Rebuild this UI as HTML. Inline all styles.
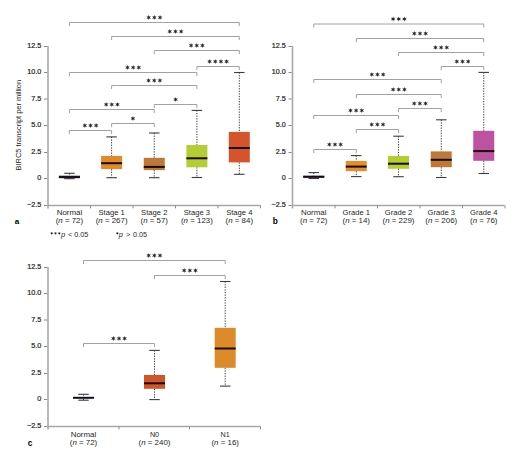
<!DOCTYPE html><html><head><meta charset="utf-8"><style>html,body{margin:0;padding:0;background:#fff;}svg{display:block;}</style></head><body>
<svg width="520" height="463" viewBox="0 0 520 463" font-family='"Liberation Sans", sans-serif'>
<rect width="520" height="463" fill="#fff"/>
<line x1="48" y1="46.0" x2="48" y2="208.5" stroke="#a8a8a8" stroke-width="1.6" />
<line x1="44" y1="46.5" x2="47.2" y2="46.5" stroke="#8a8a8a" stroke-width="1" />
<text transform="translate(41.2,48.4) scale(0.95,1)" font-size="7.6" text-anchor="end" font-weight="normal" fill="#262626" stroke="#262626" stroke-width="0.22">12.5</text>
<line x1="44" y1="72.5" x2="47.2" y2="72.5" stroke="#8a8a8a" stroke-width="1" />
<text transform="translate(41.2,74.4) scale(0.95,1)" font-size="7.6" text-anchor="end" font-weight="normal" fill="#262626" stroke="#262626" stroke-width="0.22">10.0</text>
<line x1="44" y1="99" x2="47.2" y2="99" stroke="#8a8a8a" stroke-width="1" />
<text transform="translate(41.2,100.9) scale(0.95,1)" font-size="7.6" text-anchor="end" font-weight="normal" fill="#262626" stroke="#262626" stroke-width="0.22">7.5</text>
<line x1="44" y1="125.5" x2="47.2" y2="125.5" stroke="#8a8a8a" stroke-width="1" />
<text transform="translate(41.2,127.4) scale(0.95,1)" font-size="7.6" text-anchor="end" font-weight="normal" fill="#262626" stroke="#262626" stroke-width="0.22">5.0</text>
<line x1="44" y1="152.5" x2="47.2" y2="152.5" stroke="#8a8a8a" stroke-width="1" />
<text transform="translate(41.2,154.4) scale(0.95,1)" font-size="7.6" text-anchor="end" font-weight="normal" fill="#262626" stroke="#262626" stroke-width="0.22">2.5</text>
<line x1="44" y1="178.5" x2="47.2" y2="178.5" stroke="#8a8a8a" stroke-width="1" />
<text transform="translate(41.2,180.4) scale(0.95,1)" font-size="7.6" text-anchor="end" font-weight="normal" fill="#262626" stroke="#262626" stroke-width="0.22">0</text>
<line x1="44" y1="205.5" x2="47.2" y2="205.5" stroke="#8a8a8a" stroke-width="1" />
<text transform="translate(41.2,207.4) scale(0.95,1)" font-size="7.6" text-anchor="end" font-weight="normal" fill="#262626" stroke="#262626" stroke-width="0.22">&#8722;2.5</text>
<line x1="48" y1="205.5" x2="260.5" y2="205.5" stroke="#a8a8a8" stroke-width="1.4" />
<line x1="90.5" y1="205.5" x2="90.5" y2="208.3" stroke="#8a8a8a" stroke-width="1" />
<line x1="133" y1="205.5" x2="133" y2="208.3" stroke="#8a8a8a" stroke-width="1" />
<line x1="175.5" y1="205.5" x2="175.5" y2="208.3" stroke="#8a8a8a" stroke-width="1" />
<line x1="218" y1="205.5" x2="218" y2="208.3" stroke="#8a8a8a" stroke-width="1" />
<line x1="260.5" y1="205.5" x2="260.5" y2="208.3" stroke="#8a8a8a" stroke-width="1" />
<text transform="translate(21.4,125.2) rotate(-90) scale(0.93,1)" font-size="8" text-anchor="middle" fill="#262626">BIRC5 transcript per million</text>
<line x1="69.4" y1="173.3" x2="69.4" y2="175.7" stroke="#3c3c3c" stroke-width="1" stroke-dasharray="1.3 1.3"/>
<line x1="69.4" y1="178.2" x2="69.4" y2="178.7" stroke="#3c3c3c" stroke-width="1" stroke-dasharray="1.3 1.3"/>
<line x1="64.15" y1="173.3" x2="74.65" y2="173.3" stroke="#3c3c3c" stroke-width="1.1"/>
<line x1="64.15" y1="178.7" x2="74.65" y2="178.7" stroke="#3c3c3c" stroke-width="1.1"/>
<rect x="58.900000000000006" y="175.7" width="21" height="2.5" fill="#1c1c5c"/>
<line x1="58.900000000000006" y1="177" x2="79.9" y2="177" stroke="#1a0a05" stroke-width="1.5"/>
<line x1="111.6" y1="136.9" x2="111.6" y2="155.9" stroke="#3c3c3c" stroke-width="1" stroke-dasharray="1.3 1.3"/>
<line x1="111.6" y1="169.1" x2="111.6" y2="177.7" stroke="#3c3c3c" stroke-width="1" stroke-dasharray="1.3 1.3"/>
<line x1="106.35" y1="136.9" x2="116.85" y2="136.9" stroke="#3c3c3c" stroke-width="1.1"/>
<line x1="106.35" y1="177.7" x2="116.85" y2="177.7" stroke="#3c3c3c" stroke-width="1.1"/>
<rect x="101.1" y="155.9" width="21" height="13.199999999999989" fill="#e08a2a"/>
<line x1="101.1" y1="163.2" x2="122.1" y2="163.2" stroke="#1a0a05" stroke-width="2.0"/>
<line x1="154.25" y1="133.0" x2="154.25" y2="157.8" stroke="#3c3c3c" stroke-width="1" stroke-dasharray="1.3 1.3"/>
<line x1="154.25" y1="170.1" x2="154.25" y2="177.7" stroke="#3c3c3c" stroke-width="1" stroke-dasharray="1.3 1.3"/>
<line x1="149.0" y1="133.0" x2="159.5" y2="133.0" stroke="#3c3c3c" stroke-width="1.1"/>
<line x1="149.0" y1="177.7" x2="159.5" y2="177.7" stroke="#3c3c3c" stroke-width="1.1"/>
<rect x="143.75" y="157.8" width="21" height="12.299999999999983" fill="#be7837"/>
<line x1="143.75" y1="166.9" x2="164.75" y2="166.9" stroke="#1a0a05" stroke-width="2.0"/>
<line x1="196.9" y1="110.4" x2="196.9" y2="145.0" stroke="#3c3c3c" stroke-width="1" stroke-dasharray="1.3 1.3"/>
<line x1="196.9" y1="167.3" x2="196.9" y2="177.5" stroke="#3c3c3c" stroke-width="1" stroke-dasharray="1.3 1.3"/>
<line x1="191.65" y1="110.4" x2="202.15" y2="110.4" stroke="#3c3c3c" stroke-width="1.1"/>
<line x1="191.65" y1="177.5" x2="202.15" y2="177.5" stroke="#3c3c3c" stroke-width="1.1"/>
<rect x="186.4" y="145.0" width="21" height="22.30000000000001" fill="#b4cd32"/>
<line x1="186.4" y1="158.3" x2="207.4" y2="158.3" stroke="#1a0a05" stroke-width="2.0"/>
<line x1="239.3" y1="72.5" x2="239.3" y2="131.9" stroke="#3c3c3c" stroke-width="1" stroke-dasharray="1.3 1.3"/>
<line x1="239.3" y1="162.4" x2="239.3" y2="174.3" stroke="#3c3c3c" stroke-width="1" stroke-dasharray="1.3 1.3"/>
<line x1="234.05" y1="72.5" x2="244.55" y2="72.5" stroke="#3c3c3c" stroke-width="1.1"/>
<line x1="234.05" y1="174.3" x2="244.55" y2="174.3" stroke="#3c3c3c" stroke-width="1.1"/>
<rect x="228.8" y="131.9" width="21" height="30.5" fill="#d6542c"/>
<line x1="228.8" y1="148.0" x2="249.8" y2="148.0" stroke="#1a0a05" stroke-width="2.0"/>
<path d="M69.4 26.1V22.5H239.3V26.1" stroke="#a2a2a2" stroke-width="1" fill="none"/>
<polygon points="148.68,14.90 149.23,16.55 150.93,16.20 149.77,17.50 150.93,18.80 149.23,18.45 148.68,20.10 148.13,18.45 146.43,18.80 147.59,17.50 146.43,16.20 148.13,16.55" fill="#2a2a2a"/>
<polygon points="154.35,14.90 154.90,16.55 156.60,16.20 155.44,17.50 156.60,18.80 154.90,18.45 154.35,20.10 153.80,18.45 152.10,18.80 153.26,17.50 152.10,16.20 153.80,16.55" fill="#2a2a2a"/>
<polygon points="160.02,14.90 160.57,16.55 162.27,16.20 161.11,17.50 162.27,18.80 160.57,18.45 160.02,20.10 159.47,18.45 157.77,18.80 158.93,17.50 157.77,16.20 159.47,16.55" fill="#2a2a2a"/>
<path d="M111.6 40.1V36.5H239.3V40.1" stroke="#a2a2a2" stroke-width="1" fill="none"/>
<polygon points="169.78,28.90 170.33,30.55 172.03,30.20 170.87,31.50 172.03,32.80 170.33,32.45 169.78,34.10 169.23,32.45 167.53,32.80 168.69,31.50 167.53,30.20 169.23,30.55" fill="#2a2a2a"/>
<polygon points="175.45,28.90 176.00,30.55 177.70,30.20 176.54,31.50 177.70,32.80 176.00,32.45 175.45,34.10 174.90,32.45 173.20,32.80 174.36,31.50 173.20,30.20 174.90,30.55" fill="#2a2a2a"/>
<polygon points="181.12,28.90 181.67,30.55 183.37,30.20 182.21,31.50 183.37,32.80 181.67,32.45 181.12,34.10 180.57,32.45 178.87,32.80 180.03,31.50 178.87,30.20 180.57,30.55" fill="#2a2a2a"/>
<path d="M154.25 54.1V50.5H239.3V54.1" stroke="#a2a2a2" stroke-width="1" fill="none"/>
<polygon points="191.11,42.90 191.65,44.55 193.36,44.20 192.20,45.50 193.36,46.80 191.65,46.45 191.11,48.10 190.56,46.45 188.85,46.80 190.01,45.50 188.85,44.20 190.56,44.55" fill="#2a2a2a"/>
<polygon points="196.78,42.90 197.32,44.55 199.03,44.20 197.87,45.50 199.03,46.80 197.32,46.45 196.78,48.10 196.23,46.45 194.52,46.80 195.68,45.50 194.52,44.20 196.23,44.55" fill="#2a2a2a"/>
<polygon points="202.45,42.90 202.99,44.55 204.70,44.20 203.54,45.50 204.70,46.80 202.99,46.45 202.45,48.10 201.90,46.45 200.19,46.80 201.35,45.50 200.19,44.20 201.90,44.55" fill="#2a2a2a"/>
<path d="M196.9 70.1V66.5H239.3V70.1" stroke="#a2a2a2" stroke-width="1" fill="none"/>
<polygon points="209.60,58.90 210.14,60.55 211.85,60.20 210.69,61.50 211.85,62.80 210.14,62.45 209.60,64.10 209.05,62.45 207.34,62.80 208.50,61.50 207.34,60.20 209.05,60.55" fill="#2a2a2a"/>
<polygon points="215.27,58.90 215.81,60.55 217.52,60.20 216.36,61.50 217.52,62.80 215.81,62.45 215.27,64.10 214.72,62.45 213.01,62.80 214.17,61.50 213.01,60.20 214.72,60.55" fill="#2a2a2a"/>
<polygon points="220.94,58.90 221.48,60.55 223.19,60.20 222.03,61.50 223.19,62.80 221.48,62.45 220.94,64.10 220.39,62.45 218.68,62.80 219.84,61.50 218.68,60.20 220.39,60.55" fill="#2a2a2a"/>
<polygon points="226.61,58.90 227.15,60.55 228.86,60.20 227.70,61.50 228.86,62.80 227.15,62.45 226.61,64.10 226.06,62.45 224.35,62.80 225.51,61.50 224.35,60.20 226.06,60.55" fill="#2a2a2a"/>
<path d="M69.4 76.1V72.5H196.9V76.1" stroke="#a2a2a2" stroke-width="1" fill="none"/>
<polygon points="127.48,64.90 128.03,66.55 129.73,66.20 128.57,67.50 129.73,68.80 128.03,68.45 127.48,70.10 126.93,68.45 125.23,68.80 126.39,67.50 125.23,66.20 126.93,66.55" fill="#2a2a2a"/>
<polygon points="133.15,64.90 133.70,66.55 135.40,66.20 134.24,67.50 135.40,68.80 133.70,68.45 133.15,70.10 132.60,68.45 130.90,68.80 132.06,67.50 130.90,66.20 132.60,66.55" fill="#2a2a2a"/>
<polygon points="138.82,64.90 139.37,66.55 141.07,66.20 139.91,67.50 141.07,68.80 139.37,68.45 138.82,70.10 138.27,68.45 136.57,68.80 137.73,67.50 136.57,66.20 138.27,66.55" fill="#2a2a2a"/>
<path d="M111.6 89.1V85.5H196.9V89.1" stroke="#a2a2a2" stroke-width="1" fill="none"/>
<polygon points="148.58,77.90 149.13,79.55 150.83,79.20 149.67,80.50 150.83,81.80 149.13,81.45 148.58,83.10 148.03,81.45 146.33,81.80 147.49,80.50 146.33,79.20 148.03,79.55" fill="#2a2a2a"/>
<polygon points="154.25,77.90 154.80,79.55 156.50,79.20 155.34,80.50 156.50,81.80 154.80,81.45 154.25,83.10 153.70,81.45 152.00,81.80 153.16,80.50 152.00,79.20 153.70,79.55" fill="#2a2a2a"/>
<polygon points="159.92,77.90 160.47,79.55 162.17,79.20 161.01,80.50 162.17,81.80 160.47,81.45 159.92,83.10 159.37,81.45 157.67,81.80 158.83,80.50 157.67,79.20 159.37,79.55" fill="#2a2a2a"/>
<path d="M154.25 108.1V104.5H196.9V108.1" stroke="#a2a2a2" stroke-width="1" fill="none"/>
<polygon points="175.57,96.90 176.12,98.55 177.83,98.20 176.67,99.50 177.83,100.80 176.12,100.45 175.57,102.10 175.03,100.45 173.32,100.80 174.48,99.50 173.32,98.20 175.03,98.55" fill="#2a2a2a"/>
<path d="M69.4 113.1V109.5H154.25V113.1" stroke="#a2a2a2" stroke-width="1" fill="none"/>
<polygon points="106.16,101.90 106.70,103.55 108.41,103.20 107.25,104.50 108.41,105.80 106.70,105.45 106.16,107.10 105.61,105.45 103.90,105.80 105.06,104.50 103.90,103.20 105.61,103.55" fill="#2a2a2a"/>
<polygon points="111.83,101.90 112.37,103.55 114.08,103.20 112.92,104.50 114.08,105.80 112.37,105.45 111.83,107.10 111.28,105.45 109.57,105.80 110.73,104.50 109.57,103.20 111.28,103.55" fill="#2a2a2a"/>
<polygon points="117.50,101.90 118.04,103.55 119.75,103.20 118.59,104.50 119.75,105.80 118.04,105.45 117.50,107.10 116.95,105.45 115.24,105.80 116.40,104.50 115.24,103.20 116.95,103.55" fill="#2a2a2a"/>
<path d="M111.6 127.1V123.5H154.25V127.1" stroke="#a2a2a2" stroke-width="1" fill="none"/>
<polygon points="132.93,115.90 133.47,117.55 135.18,117.20 134.02,118.50 135.18,119.80 133.47,119.45 132.93,121.10 132.38,119.45 130.67,119.80 131.83,118.50 130.67,117.20 132.38,117.55" fill="#2a2a2a"/>
<path d="M69.4 134.1V130.5H111.6V134.1" stroke="#a2a2a2" stroke-width="1" fill="none"/>
<polygon points="84.83,122.90 85.38,124.55 87.08,124.20 85.92,125.50 87.08,126.80 85.38,126.45 84.83,128.10 84.28,126.45 82.58,126.80 83.74,125.50 82.58,124.20 84.28,124.55" fill="#2a2a2a"/>
<polygon points="90.50,122.90 91.05,124.55 92.75,124.20 91.59,125.50 92.75,126.80 91.05,126.45 90.50,128.10 89.95,126.45 88.25,126.80 89.41,125.50 88.25,124.20 89.95,124.55" fill="#2a2a2a"/>
<polygon points="96.17,122.90 96.72,124.55 98.42,124.20 97.26,125.50 98.42,126.80 96.72,126.45 96.17,128.10 95.62,126.45 93.92,126.80 95.08,125.50 93.92,124.20 95.62,124.55" fill="#2a2a2a"/>
<text transform="translate(69.4,215) scale(1.1,1)" font-size="7.2" text-anchor="middle" font-weight="normal" fill="#262626" >Normal</text>
<text transform="translate(69.4,223.2) scale(1.1,1)" font-size="7.2" text-anchor="middle" font-weight="normal" fill="#262626" >(<tspan font-style="italic">n</tspan> = 72)</text>
<text transform="translate(111.6,215) scale(1.06,1)" font-size="7.2" text-anchor="middle" font-weight="normal" fill="#262626" >Stage 1</text>
<text transform="translate(111.6,223.2) scale(1.1,1)" font-size="7.2" text-anchor="middle" font-weight="normal" fill="#262626" >(<tspan font-style="italic">n</tspan> = 267)</text>
<text transform="translate(154.25,215) scale(1.06,1)" font-size="7.2" text-anchor="middle" font-weight="normal" fill="#262626" >Stage 2</text>
<text transform="translate(154.25,223.2) scale(1.1,1)" font-size="7.2" text-anchor="middle" font-weight="normal" fill="#262626" >(<tspan font-style="italic">n</tspan> = 57)</text>
<text transform="translate(196.9,215) scale(1.06,1)" font-size="7.2" text-anchor="middle" font-weight="normal" fill="#262626" >Stage 3</text>
<text transform="translate(196.9,223.2) scale(1.1,1)" font-size="7.2" text-anchor="middle" font-weight="normal" fill="#262626" >(<tspan font-style="italic">n</tspan> = 123)</text>
<text transform="translate(239.3,215) scale(1.06,1)" font-size="7.2" text-anchor="middle" font-weight="normal" fill="#262626" >Stage 4</text>
<text transform="translate(239.3,223.2) scale(1.1,1)" font-size="7.2" text-anchor="middle" font-weight="normal" fill="#262626" >(<tspan font-style="italic">n</tspan> = 84)</text>
<text x="17.1" y="223.8" font-size="8" text-anchor="middle" font-weight="bold" fill="#000" >a</text>
<polygon points="51.80,231.70 52.14,232.72 53.19,232.50 52.47,233.30 53.19,234.10 52.14,233.88 51.80,234.90 51.46,233.88 50.41,234.10 51.13,233.30 50.41,232.50 51.46,232.72" fill="#1e1e1e"/>
<polygon points="55.50,231.70 55.84,232.72 56.89,232.50 56.17,233.30 56.89,234.10 55.84,233.88 55.50,234.90 55.16,233.88 54.11,234.10 54.83,233.30 54.11,232.50 55.16,232.72" fill="#1e1e1e"/>
<polygon points="59.20,231.70 59.54,232.72 60.59,232.50 59.87,233.30 60.59,234.10 59.54,233.88 59.20,234.90 58.86,233.88 57.81,234.10 58.53,233.30 57.81,232.50 58.86,232.72" fill="#1e1e1e"/>
<polygon points="117.30,231.70 117.64,232.72 118.69,232.50 117.97,233.30 118.69,234.10 117.64,233.88 117.30,234.90 116.96,233.88 115.91,234.10 116.63,233.30 115.91,232.50 116.96,232.72" fill="#1e1e1e"/>
<text transform="translate(61.0,237) scale(1.05,1)" font-size="7.2" text-anchor="start" font-weight="normal" fill="#262626" ><tspan font-style="italic">p</tspan></text>
<text x="68.0" y="237" font-size="7.2" text-anchor="start" font-weight="normal" fill="#262626" >&lt;</text>
<text x="74.3" y="237" font-size="7.2" text-anchor="start" font-weight="normal" fill="#262626" >0.05</text>
<text transform="translate(118.8,237) scale(1.05,1)" font-size="7.2" text-anchor="start" font-weight="normal" fill="#262626" ><tspan font-style="italic">p</tspan></text>
<text x="126.0" y="237" font-size="7.2" text-anchor="start" font-weight="normal" fill="#262626" >&gt;</text>
<text x="133.0" y="237" font-size="7.2" text-anchor="start" font-weight="normal" fill="#262626" >0.05</text>
<line x1="292.5" y1="46.0" x2="292.5" y2="208.5" stroke="#a8a8a8" stroke-width="1.6" />
<line x1="288.5" y1="46.5" x2="291.7" y2="46.5" stroke="#8a8a8a" stroke-width="1" />
<text transform="translate(285.7,48.4) scale(0.95,1)" font-size="7.6" text-anchor="end" font-weight="normal" fill="#262626" stroke="#262626" stroke-width="0.22">12.5</text>
<line x1="288.5" y1="72.5" x2="291.7" y2="72.5" stroke="#8a8a8a" stroke-width="1" />
<text transform="translate(285.7,74.4) scale(0.95,1)" font-size="7.6" text-anchor="end" font-weight="normal" fill="#262626" stroke="#262626" stroke-width="0.22">10.0</text>
<line x1="288.5" y1="99" x2="291.7" y2="99" stroke="#8a8a8a" stroke-width="1" />
<text transform="translate(285.7,100.9) scale(0.95,1)" font-size="7.6" text-anchor="end" font-weight="normal" fill="#262626" stroke="#262626" stroke-width="0.22">7.5</text>
<line x1="288.5" y1="125.5" x2="291.7" y2="125.5" stroke="#8a8a8a" stroke-width="1" />
<text transform="translate(285.7,127.4) scale(0.95,1)" font-size="7.6" text-anchor="end" font-weight="normal" fill="#262626" stroke="#262626" stroke-width="0.22">5.0</text>
<line x1="288.5" y1="152.5" x2="291.7" y2="152.5" stroke="#8a8a8a" stroke-width="1" />
<text transform="translate(285.7,154.4) scale(0.95,1)" font-size="7.6" text-anchor="end" font-weight="normal" fill="#262626" stroke="#262626" stroke-width="0.22">2.5</text>
<line x1="288.5" y1="178.5" x2="291.7" y2="178.5" stroke="#8a8a8a" stroke-width="1" />
<text transform="translate(285.7,180.4) scale(0.95,1)" font-size="7.6" text-anchor="end" font-weight="normal" fill="#262626" stroke="#262626" stroke-width="0.22">0</text>
<line x1="288.5" y1="205.5" x2="291.7" y2="205.5" stroke="#8a8a8a" stroke-width="1" />
<text transform="translate(285.7,207.4) scale(0.95,1)" font-size="7.6" text-anchor="end" font-weight="normal" fill="#262626" stroke="#262626" stroke-width="0.22">&#8722;2.5</text>
<line x1="292.5" y1="205.5" x2="504.5" y2="205.5" stroke="#a8a8a8" stroke-width="1.4" />
<line x1="335" y1="205.5" x2="335" y2="208.3" stroke="#8a8a8a" stroke-width="1" />
<line x1="377.5" y1="205.5" x2="377.5" y2="208.3" stroke="#8a8a8a" stroke-width="1" />
<line x1="420" y1="205.5" x2="420" y2="208.3" stroke="#8a8a8a" stroke-width="1" />
<line x1="462.5" y1="205.5" x2="462.5" y2="208.3" stroke="#8a8a8a" stroke-width="1" />
<line x1="505" y1="205.5" x2="505" y2="208.3" stroke="#8a8a8a" stroke-width="1" />
<line x1="313.75" y1="172.6" x2="313.75" y2="175.6" stroke="#3c3c3c" stroke-width="1" stroke-dasharray="1.3 1.3"/>
<line x1="313.75" y1="177.8" x2="313.75" y2="178.5" stroke="#3c3c3c" stroke-width="1" stroke-dasharray="1.3 1.3"/>
<line x1="308.5" y1="172.6" x2="319.0" y2="172.6" stroke="#3c3c3c" stroke-width="1.1"/>
<line x1="308.5" y1="178.5" x2="319.0" y2="178.5" stroke="#3c3c3c" stroke-width="1.1"/>
<rect x="303.25" y="175.6" width="21" height="2.200000000000017" fill="#1c1c5c"/>
<line x1="303.25" y1="176.8" x2="324.25" y2="176.8" stroke="#1a0a05" stroke-width="1.5"/>
<line x1="356.25" y1="155.6" x2="356.25" y2="160.9" stroke="#3c3c3c" stroke-width="1" stroke-dasharray="1.3 1.3"/>
<line x1="356.25" y1="171.2" x2="356.25" y2="176.6" stroke="#3c3c3c" stroke-width="1" stroke-dasharray="1.3 1.3"/>
<line x1="351.0" y1="155.6" x2="361.5" y2="155.6" stroke="#3c3c3c" stroke-width="1.1"/>
<line x1="351.0" y1="176.6" x2="361.5" y2="176.6" stroke="#3c3c3c" stroke-width="1.1"/>
<rect x="345.75" y="160.9" width="21" height="10.299999999999983" fill="#e38f2e"/>
<line x1="345.75" y1="166.6" x2="366.75" y2="166.6" stroke="#1a0a05" stroke-width="2.0"/>
<line x1="398.5" y1="136.2" x2="398.5" y2="156.0" stroke="#3c3c3c" stroke-width="1" stroke-dasharray="1.3 1.3"/>
<line x1="398.5" y1="168.8" x2="398.5" y2="176.7" stroke="#3c3c3c" stroke-width="1" stroke-dasharray="1.3 1.3"/>
<line x1="393.25" y1="136.2" x2="403.75" y2="136.2" stroke="#3c3c3c" stroke-width="1.1"/>
<line x1="393.25" y1="176.7" x2="403.75" y2="176.7" stroke="#3c3c3c" stroke-width="1.1"/>
<rect x="388.0" y="156.0" width="21" height="12.800000000000011" fill="#b4cd32"/>
<line x1="388.0" y1="163.7" x2="409.0" y2="163.7" stroke="#1a0a05" stroke-width="2.0"/>
<line x1="441.25" y1="119.8" x2="441.25" y2="151.4" stroke="#3c3c3c" stroke-width="1" stroke-dasharray="1.3 1.3"/>
<line x1="441.25" y1="167.2" x2="441.25" y2="177.5" stroke="#3c3c3c" stroke-width="1" stroke-dasharray="1.3 1.3"/>
<line x1="436.0" y1="119.8" x2="446.5" y2="119.8" stroke="#3c3c3c" stroke-width="1.1"/>
<line x1="436.0" y1="177.5" x2="446.5" y2="177.5" stroke="#3c3c3c" stroke-width="1.1"/>
<rect x="430.75" y="151.4" width="21" height="15.799999999999983" fill="#be7837"/>
<line x1="430.75" y1="159.8" x2="451.75" y2="159.8" stroke="#1a0a05" stroke-width="2.0"/>
<line x1="483.75" y1="72.4" x2="483.75" y2="130.8" stroke="#3c3c3c" stroke-width="1" stroke-dasharray="1.3 1.3"/>
<line x1="483.75" y1="160.8" x2="483.75" y2="173.5" stroke="#3c3c3c" stroke-width="1" stroke-dasharray="1.3 1.3"/>
<line x1="478.5" y1="72.4" x2="489.0" y2="72.4" stroke="#3c3c3c" stroke-width="1.1"/>
<line x1="478.5" y1="173.5" x2="489.0" y2="173.5" stroke="#3c3c3c" stroke-width="1.1"/>
<rect x="473.25" y="130.8" width="21" height="30.0" fill="#bd52a0"/>
<line x1="473.25" y1="151.1" x2="494.25" y2="151.1" stroke="#1a0a05" stroke-width="2.0"/>
<path d="M313.75 27.6V24H483.75V27.6" stroke="#a2a2a2" stroke-width="1" fill="none"/>
<polygon points="393.08,16.40 393.63,18.05 395.33,17.70 394.17,19.00 395.33,20.30 393.63,19.95 393.08,21.60 392.53,19.95 390.83,20.30 391.99,19.00 390.83,17.70 392.53,18.05" fill="#2a2a2a"/>
<polygon points="398.75,16.40 399.30,18.05 401.00,17.70 399.84,19.00 401.00,20.30 399.30,19.95 398.75,21.60 398.20,19.95 396.50,20.30 397.66,19.00 396.50,17.70 398.20,18.05" fill="#2a2a2a"/>
<polygon points="404.42,16.40 404.97,18.05 406.67,17.70 405.51,19.00 406.67,20.30 404.97,19.95 404.42,21.60 403.87,19.95 402.17,20.30 403.33,19.00 402.17,17.70 403.87,18.05" fill="#2a2a2a"/>
<path d="M356.25 42.1V38.5H483.75V42.1" stroke="#a2a2a2" stroke-width="1" fill="none"/>
<polygon points="414.33,30.90 414.88,32.55 416.58,32.20 415.42,33.50 416.58,34.80 414.88,34.45 414.33,36.10 413.78,34.45 412.08,34.80 413.24,33.50 412.08,32.20 413.78,32.55" fill="#2a2a2a"/>
<polygon points="420.00,30.90 420.55,32.55 422.25,32.20 421.09,33.50 422.25,34.80 420.55,34.45 420.00,36.10 419.45,34.45 417.75,34.80 418.91,33.50 417.75,32.20 419.45,32.55" fill="#2a2a2a"/>
<polygon points="425.67,30.90 426.22,32.55 427.92,32.20 426.76,33.50 427.92,34.80 426.22,34.45 425.67,36.10 425.12,34.45 423.42,34.80 424.58,33.50 423.42,32.20 425.12,32.55" fill="#2a2a2a"/>
<path d="M398.5 56.1V52.5H483.75V56.1" stroke="#a2a2a2" stroke-width="1" fill="none"/>
<polygon points="435.45,44.90 436.00,46.55 437.71,46.20 436.55,47.50 437.71,48.80 436.00,48.45 435.45,50.10 434.91,48.45 433.20,48.80 434.36,47.50 433.20,46.20 434.91,46.55" fill="#2a2a2a"/>
<polygon points="441.12,44.90 441.67,46.55 443.38,46.20 442.22,47.50 443.38,48.80 441.67,48.45 441.12,50.10 440.58,48.45 438.87,48.80 440.03,47.50 438.87,46.20 440.58,46.55" fill="#2a2a2a"/>
<polygon points="446.79,44.90 447.34,46.55 449.05,46.20 447.89,47.50 449.05,48.80 447.34,48.45 446.79,50.10 446.25,48.45 444.54,48.80 445.70,47.50 444.54,46.20 446.25,46.55" fill="#2a2a2a"/>
<path d="M441.25 70.1V66.5H483.75V70.1" stroke="#a2a2a2" stroke-width="1" fill="none"/>
<polygon points="456.83,58.90 457.38,60.55 459.08,60.20 457.92,61.50 459.08,62.80 457.38,62.45 456.83,64.10 456.28,62.45 454.58,62.80 455.74,61.50 454.58,60.20 456.28,60.55" fill="#2a2a2a"/>
<polygon points="462.50,58.90 463.05,60.55 464.75,60.20 463.59,61.50 464.75,62.80 463.05,62.45 462.50,64.10 461.95,62.45 460.25,62.80 461.41,61.50 460.25,60.20 461.95,60.55" fill="#2a2a2a"/>
<polygon points="468.17,58.90 468.72,60.55 470.42,60.20 469.26,61.50 470.42,62.80 468.72,62.45 468.17,64.10 467.62,62.45 465.92,62.80 467.08,61.50 465.92,60.20 467.62,60.55" fill="#2a2a2a"/>
<path d="M313.75 83.1V79.5H441.25V83.1" stroke="#a2a2a2" stroke-width="1" fill="none"/>
<polygon points="371.83,71.90 372.38,73.55 374.08,73.20 372.92,74.50 374.08,75.80 372.38,75.45 371.83,77.10 371.28,75.45 369.58,75.80 370.74,74.50 369.58,73.20 371.28,73.55" fill="#2a2a2a"/>
<polygon points="377.50,71.90 378.05,73.55 379.75,73.20 378.59,74.50 379.75,75.80 378.05,75.45 377.50,77.10 376.95,75.45 375.25,75.80 376.41,74.50 375.25,73.20 376.95,73.55" fill="#2a2a2a"/>
<polygon points="383.17,71.90 383.72,73.55 385.42,73.20 384.26,74.50 385.42,75.80 383.72,75.45 383.17,77.10 382.62,75.45 380.92,75.80 382.08,74.50 380.92,73.20 382.62,73.55" fill="#2a2a2a"/>
<path d="M356.25 98.1V94.5H441.25V98.1" stroke="#a2a2a2" stroke-width="1" fill="none"/>
<polygon points="393.08,86.90 393.63,88.55 395.33,88.20 394.17,89.50 395.33,90.80 393.63,90.45 393.08,92.10 392.53,90.45 390.83,90.80 391.99,89.50 390.83,88.20 392.53,88.55" fill="#2a2a2a"/>
<polygon points="398.75,86.90 399.30,88.55 401.00,88.20 399.84,89.50 401.00,90.80 399.30,90.45 398.75,92.10 398.20,90.45 396.50,90.80 397.66,89.50 396.50,88.20 398.20,88.55" fill="#2a2a2a"/>
<polygon points="404.42,86.90 404.97,88.55 406.67,88.20 405.51,89.50 406.67,90.80 404.97,90.45 404.42,92.10 403.87,90.45 402.17,90.80 403.33,89.50 402.17,88.20 403.87,88.55" fill="#2a2a2a"/>
<path d="M398.5 112.1V108.5H441.25V112.1" stroke="#a2a2a2" stroke-width="1" fill="none"/>
<polygon points="414.20,100.90 414.75,102.55 416.46,102.20 415.30,103.50 416.46,104.80 414.75,104.45 414.20,106.10 413.66,104.45 411.95,104.80 413.11,103.50 411.95,102.20 413.66,102.55" fill="#2a2a2a"/>
<polygon points="419.88,100.90 420.42,102.55 422.13,102.20 420.97,103.50 422.13,104.80 420.42,104.45 419.88,106.10 419.33,104.45 417.62,104.80 418.78,103.50 417.62,102.20 419.33,102.55" fill="#2a2a2a"/>
<polygon points="425.54,100.90 426.09,102.55 427.80,102.20 426.64,103.50 427.80,104.80 426.09,104.45 425.54,106.10 425.00,104.45 423.29,104.80 424.45,103.50 423.29,102.20 425.00,102.55" fill="#2a2a2a"/>
<path d="M313.75 119.1V115.5H398.5V119.1" stroke="#a2a2a2" stroke-width="1" fill="none"/>
<polygon points="350.45,107.90 351.00,109.55 352.71,109.20 351.55,110.50 352.71,111.80 351.00,111.45 350.45,113.10 349.91,111.45 348.20,111.80 349.36,110.50 348.20,109.20 349.91,109.55" fill="#2a2a2a"/>
<polygon points="356.12,107.90 356.67,109.55 358.38,109.20 357.22,110.50 358.38,111.80 356.67,111.45 356.12,113.10 355.58,111.45 353.87,111.80 355.03,110.50 353.87,109.20 355.58,109.55" fill="#2a2a2a"/>
<polygon points="361.79,107.90 362.34,109.55 364.05,109.20 362.89,110.50 364.05,111.80 362.34,111.45 361.79,113.10 361.25,111.45 359.54,111.80 360.70,110.50 359.54,109.20 361.25,109.55" fill="#2a2a2a"/>
<path d="M356.25 133.1V129.5H398.5V133.1" stroke="#a2a2a2" stroke-width="1" fill="none"/>
<polygon points="371.70,121.90 372.25,123.55 373.96,123.20 372.80,124.50 373.96,125.80 372.25,125.45 371.70,127.10 371.16,125.45 369.45,125.80 370.61,124.50 369.45,123.20 371.16,123.55" fill="#2a2a2a"/>
<polygon points="377.38,121.90 377.92,123.55 379.63,123.20 378.47,124.50 379.63,125.80 377.92,125.45 377.38,127.10 376.83,125.45 375.12,125.80 376.28,124.50 375.12,123.20 376.83,123.55" fill="#2a2a2a"/>
<polygon points="383.04,121.90 383.59,123.55 385.30,123.20 384.14,124.50 385.30,125.80 383.59,125.45 383.04,127.10 382.50,125.45 380.79,125.80 381.95,124.50 380.79,123.20 382.50,123.55" fill="#2a2a2a"/>
<path d="M313.75 153.1V149.5H356.25V153.1" stroke="#a2a2a2" stroke-width="1" fill="none"/>
<polygon points="329.33,141.90 329.88,143.55 331.58,143.20 330.42,144.50 331.58,145.80 329.88,145.45 329.33,147.10 328.78,145.45 327.08,145.80 328.24,144.50 327.08,143.20 328.78,143.55" fill="#2a2a2a"/>
<polygon points="335.00,141.90 335.55,143.55 337.25,143.20 336.09,144.50 337.25,145.80 335.55,145.45 335.00,147.10 334.45,145.45 332.75,145.80 333.91,144.50 332.75,143.20 334.45,143.55" fill="#2a2a2a"/>
<polygon points="340.67,141.90 341.22,143.55 342.92,143.20 341.76,144.50 342.92,145.80 341.22,145.45 340.67,147.10 340.12,145.45 338.42,145.80 339.58,144.50 338.42,143.20 340.12,143.55" fill="#2a2a2a"/>
<text transform="translate(313.75,215) scale(1.1,1)" font-size="7.2" text-anchor="middle" font-weight="normal" fill="#262626" >Normal</text>
<text transform="translate(313.75,223.2) scale(1.1,1)" font-size="7.2" text-anchor="middle" font-weight="normal" fill="#262626" >(<tspan font-style="italic">n</tspan> = 72)</text>
<text transform="translate(356.25,215) scale(1.06,1)" font-size="7.2" text-anchor="middle" font-weight="normal" fill="#262626" >Grade 1</text>
<text transform="translate(356.25,223.2) scale(1.1,1)" font-size="7.2" text-anchor="middle" font-weight="normal" fill="#262626" >(<tspan font-style="italic">n</tspan> = 14)</text>
<text transform="translate(398.5,215) scale(1.06,1)" font-size="7.2" text-anchor="middle" font-weight="normal" fill="#262626" >Grade 2</text>
<text transform="translate(398.5,223.2) scale(1.1,1)" font-size="7.2" text-anchor="middle" font-weight="normal" fill="#262626" >(<tspan font-style="italic">n</tspan> = 229)</text>
<text transform="translate(441.25,215) scale(1.06,1)" font-size="7.2" text-anchor="middle" font-weight="normal" fill="#262626" >Grade 3</text>
<text transform="translate(441.25,223.2) scale(1.1,1)" font-size="7.2" text-anchor="middle" font-weight="normal" fill="#262626" >(<tspan font-style="italic">n</tspan> = 206)</text>
<text transform="translate(483.75,215) scale(1.06,1)" font-size="7.2" text-anchor="middle" font-weight="normal" fill="#262626" >Grade 4</text>
<text transform="translate(483.75,223.2) scale(1.1,1)" font-size="7.2" text-anchor="middle" font-weight="normal" fill="#262626" >(<tspan font-style="italic">n</tspan> = 76)</text>
<text x="275.2" y="224" font-size="8.3" text-anchor="middle" font-weight="bold" fill="#000" >b</text>
<line x1="48" y1="267.0" x2="48" y2="429.5" stroke="#a8a8a8" stroke-width="1.6" />
<line x1="44" y1="267.5" x2="47.2" y2="267.5" stroke="#8a8a8a" stroke-width="1" />
<text transform="translate(41.2,269.4) scale(0.95,1)" font-size="7.6" text-anchor="end" font-weight="normal" fill="#262626" stroke="#262626" stroke-width="0.22">12.5</text>
<line x1="44" y1="293.5" x2="47.2" y2="293.5" stroke="#8a8a8a" stroke-width="1" />
<text transform="translate(41.2,295.4) scale(0.95,1)" font-size="7.6" text-anchor="end" font-weight="normal" fill="#262626" stroke="#262626" stroke-width="0.22">10.0</text>
<line x1="44" y1="320" x2="47.2" y2="320" stroke="#8a8a8a" stroke-width="1" />
<text transform="translate(41.2,321.9) scale(0.95,1)" font-size="7.6" text-anchor="end" font-weight="normal" fill="#262626" stroke="#262626" stroke-width="0.22">7.5</text>
<line x1="44" y1="346.5" x2="47.2" y2="346.5" stroke="#8a8a8a" stroke-width="1" />
<text transform="translate(41.2,348.4) scale(0.95,1)" font-size="7.6" text-anchor="end" font-weight="normal" fill="#262626" stroke="#262626" stroke-width="0.22">5.0</text>
<line x1="44" y1="373.5" x2="47.2" y2="373.5" stroke="#8a8a8a" stroke-width="1" />
<text transform="translate(41.2,375.4) scale(0.95,1)" font-size="7.6" text-anchor="end" font-weight="normal" fill="#262626" stroke="#262626" stroke-width="0.22">2.5</text>
<line x1="44" y1="399.5" x2="47.2" y2="399.5" stroke="#8a8a8a" stroke-width="1" />
<text transform="translate(41.2,401.4) scale(0.95,1)" font-size="7.6" text-anchor="end" font-weight="normal" fill="#262626" stroke="#262626" stroke-width="0.22">0</text>
<line x1="44" y1="426.5" x2="47.2" y2="426.5" stroke="#8a8a8a" stroke-width="1" />
<text transform="translate(41.2,428.4) scale(0.95,1)" font-size="7.6" text-anchor="end" font-weight="normal" fill="#262626" stroke="#262626" stroke-width="0.22">&#8722;2.5</text>
<line x1="48" y1="426.5" x2="260.5" y2="426.5" stroke="#a8a8a8" stroke-width="1.4" />
<line x1="119" y1="426.5" x2="119" y2="429.3" stroke="#8a8a8a" stroke-width="1" />
<line x1="189.5" y1="426.5" x2="189.5" y2="429.3" stroke="#8a8a8a" stroke-width="1" />
<line x1="260.5" y1="426.5" x2="260.5" y2="429.3" stroke="#8a8a8a" stroke-width="1" />
<line x1="83.5" y1="394.3" x2="83.5" y2="396.8" stroke="#3c3c3c" stroke-width="1" stroke-dasharray="1.3 1.3"/>
<line x1="83.5" y1="398.7" x2="83.5" y2="400.2" stroke="#3c3c3c" stroke-width="1" stroke-dasharray="1.3 1.3"/>
<line x1="78.25" y1="394.3" x2="88.75" y2="394.3" stroke="#3c3c3c" stroke-width="1.1"/>
<line x1="78.25" y1="400.2" x2="88.75" y2="400.2" stroke="#3c3c3c" stroke-width="1.1"/>
<rect x="73.0" y="396.8" width="21" height="1.8999999999999773" fill="#1c1c5c"/>
<line x1="73.0" y1="397.7" x2="94.0" y2="397.7" stroke="#1a0a05" stroke-width="1.4"/>
<line x1="154.5" y1="350.4" x2="154.5" y2="375.0" stroke="#3c3c3c" stroke-width="1" stroke-dasharray="1.3 1.3"/>
<line x1="154.5" y1="388.8" x2="154.5" y2="399.6" stroke="#3c3c3c" stroke-width="1" stroke-dasharray="1.3 1.3"/>
<line x1="149.25" y1="350.4" x2="159.75" y2="350.4" stroke="#3c3c3c" stroke-width="1.1"/>
<line x1="149.25" y1="399.6" x2="159.75" y2="399.6" stroke="#3c3c3c" stroke-width="1.1"/>
<rect x="144.0" y="375.0" width="21" height="13.800000000000011" fill="#d2552a"/>
<line x1="144.0" y1="383.3" x2="165.0" y2="383.3" stroke="#1a0a05" stroke-width="2.0"/>
<line x1="225.2" y1="281.5" x2="225.2" y2="327.8" stroke="#3c3c3c" stroke-width="1" stroke-dasharray="1.3 1.3"/>
<line x1="225.2" y1="367.8" x2="225.2" y2="386.1" stroke="#3c3c3c" stroke-width="1" stroke-dasharray="1.3 1.3"/>
<line x1="219.95" y1="281.5" x2="230.45" y2="281.5" stroke="#3c3c3c" stroke-width="1.1"/>
<line x1="219.95" y1="386.1" x2="230.45" y2="386.1" stroke="#3c3c3c" stroke-width="1.1"/>
<rect x="214.7" y="327.8" width="21" height="40.0" fill="#dd8a2a"/>
<line x1="214.7" y1="348.5" x2="235.7" y2="348.5" stroke="#1a0a05" stroke-width="2.0"/>
<path d="M83.5 264.1V260.5H225.2V264.1" stroke="#a2a2a2" stroke-width="1" fill="none"/>
<polygon points="148.68,252.90 149.23,254.55 150.93,254.20 149.77,255.50 150.93,256.80 149.23,256.45 148.68,258.10 148.13,256.45 146.43,256.80 147.59,255.50 146.43,254.20 148.13,254.55" fill="#2a2a2a"/>
<polygon points="154.35,252.90 154.90,254.55 156.60,254.20 155.44,255.50 156.60,256.80 154.90,256.45 154.35,258.10 153.80,256.45 152.10,256.80 153.26,255.50 152.10,254.20 153.80,254.55" fill="#2a2a2a"/>
<polygon points="160.02,252.90 160.57,254.55 162.27,254.20 161.11,255.50 162.27,256.80 160.57,256.45 160.02,258.10 159.47,256.45 157.77,256.80 158.93,255.50 157.77,254.20 159.47,254.55" fill="#2a2a2a"/>
<path d="M154.5 279.1V275.5H225.2V279.1" stroke="#a2a2a2" stroke-width="1" fill="none"/>
<polygon points="184.18,267.90 184.73,269.55 186.43,269.20 185.27,270.50 186.43,271.80 184.73,271.45 184.18,273.10 183.63,271.45 181.93,271.80 183.09,270.50 181.93,269.20 183.63,269.55" fill="#2a2a2a"/>
<polygon points="189.85,267.90 190.40,269.55 192.10,269.20 190.94,270.50 192.10,271.80 190.40,271.45 189.85,273.10 189.30,271.45 187.60,271.80 188.76,270.50 187.60,269.20 189.30,269.55" fill="#2a2a2a"/>
<polygon points="195.52,267.90 196.07,269.55 197.77,269.20 196.61,270.50 197.77,271.80 196.07,271.45 195.52,273.10 194.97,271.45 193.27,271.80 194.43,270.50 193.27,269.20 194.97,269.55" fill="#2a2a2a"/>
<path d="M83.5 347.1V343.5H154.5V347.1" stroke="#a2a2a2" stroke-width="1" fill="none"/>
<polygon points="113.33,335.90 113.88,337.55 115.58,337.20 114.42,338.50 115.58,339.80 113.88,339.45 113.33,341.10 112.78,339.45 111.08,339.80 112.24,338.50 111.08,337.20 112.78,337.55" fill="#2a2a2a"/>
<polygon points="119.00,335.90 119.55,337.55 121.25,337.20 120.09,338.50 121.25,339.80 119.55,339.45 119.00,341.10 118.45,339.45 116.75,339.80 117.91,338.50 116.75,337.20 118.45,337.55" fill="#2a2a2a"/>
<polygon points="124.67,335.90 125.22,337.55 126.92,337.20 125.76,338.50 126.92,339.80 125.22,339.45 124.67,341.10 124.12,339.45 122.42,339.80 123.58,338.50 122.42,337.20 124.12,337.55" fill="#2a2a2a"/>
<text transform="translate(83.5,436.5) scale(1.1,1)" font-size="7.2" text-anchor="middle" font-weight="normal" fill="#262626" >Normal</text>
<text transform="translate(83.5,445) scale(1.1,1)" font-size="7.2" text-anchor="middle" font-weight="normal" fill="#262626" >(<tspan font-style="italic">n</tspan> = 72)</text>
<text x="154.5" y="436.5" font-size="7.2" text-anchor="middle" font-weight="normal" fill="#262626" >N0</text>
<text transform="translate(154.5,445) scale(1.1,1)" font-size="7.2" text-anchor="middle" font-weight="normal" fill="#262626" >(<tspan font-style="italic">n</tspan> = 240)</text>
<text x="225.2" y="436.5" font-size="7.2" text-anchor="middle" font-weight="normal" fill="#262626" >N1</text>
<text transform="translate(225.2,445) scale(1.1,1)" font-size="7.2" text-anchor="middle" font-weight="normal" fill="#262626" >(<tspan font-style="italic">n</tspan> = 16)</text>
<text x="30" y="445.6" font-size="8.3" text-anchor="middle" font-weight="bold" fill="#000" >c</text>
</svg></body></html>
